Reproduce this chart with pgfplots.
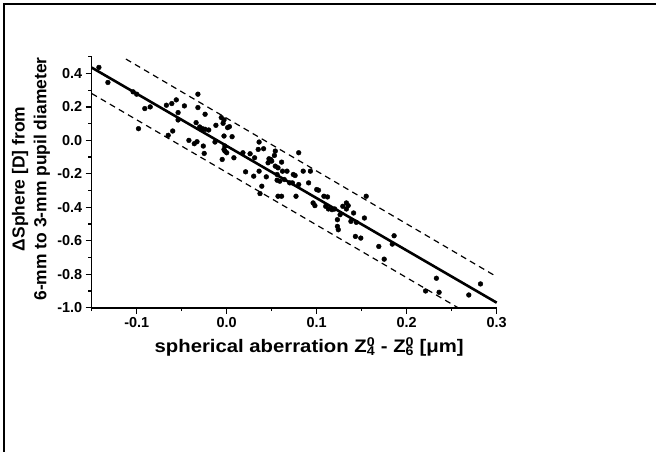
\documentclass[border=0pt]{standalone}
\usepackage{pgfplots}
\pgfplotsset{compat=1.18}
\usepackage{fontspec}
\setmainfont{Liberation Sans}
\newfontfamily\widefont[FakeStretch=1.12]{Liberation Sans}
\begin{document}
\begin{tikzpicture}
\useasboundingbox (0,0) rectangle (656bp,452bp);
\begin{axis}[
  at={(91.7bp,144.3bp)}, anchor=south west, scale only axis,
  width=405bp, height=251bp,
  xmin=-0.15, xmax=0.3, ymin=-1.0, ymax=0.5,
  axis x line*=bottom, axis y line*=left,
  x axis line style={line width=2pt},
  y axis line style={line width=1.5pt},
  tick align=outside,
  major tick length=6bp, minor tick length=3.5bp,
  every tick/.style={black, line width=1.3pt},
  xtick={-0.1,0,0.1,0.2,0.3},
  minor xtick={-0.15,-0.05,0.05,0.15,0.25},
  ytick={-1,-0.8,-0.6,-0.4,-0.2,0,0.2,0.4},
  minor ytick={-0.9,-0.7,-0.5,-0.3,-0.1,0.1,0.3,0.5},
  /pgf/number format/.cd, fixed, fixed zerofill, precision=1, assume math mode=true,
  /pgfplots/.cd,
  tick label style={font=\fontsize{14.5}{16}\selectfont\bfseries},
  xlabel={spherical aberration Z\rlap{\textsuperscript{0}}\textsubscript{4}\ - Z\rlap{\textsuperscript{0}}\textsubscript{6}\ [μm]},
  xlabel style={font=\fontsize{18.2}{20}\selectfont\widefont\bfseries, at={(axis description cs:0.537,-0.155)}, anchor=center},
  ylabel={ΔSphere [D] from\\6-mm to 3-mm pupil diameter},
  ylabel style={font=\fontsize{17.5}{22}\selectfont\bfseries, align=center, at={(axis description cs:-0.150,0.513)}, anchor=center, rotate=0},
  clip=false,
]
\addplot[only marks, mark=*, mark size=2.4bp, black] coordinates {
(-0.142,0.436) (-0.132,0.346) (-0.104,0.290) (-0.100,0.276) (-0.098,0.070)
(-0.091,0.190) (-0.085,0.200) (-0.067,0.210) (-0.065,0.030) (-0.060,0.056)
(-0.061,0.220) (-0.056,0.242) (-0.054,0.166) (-0.054,0.122) (-0.047,0.206)
(-0.042,0.000) (-0.036,-0.020) (-0.033,-0.008) (-0.032,0.276) (-0.032,0.196)
(-0.034,0.106) (-0.030,0.080) (-0.027,0.070) (-0.026,-0.034) (-0.025,-0.078)
(-0.024,0.156) (-0.024,0.066) (-0.020,0.062) (-0.013,-0.010) (-0.012,0.090)
(-0.006,0.136) (-0.004,0.102) (-0.003,0.122) (-0.005,-0.114) (-0.003,-0.054)
(-0.002,-0.064) (-0.003,0.026) (0.001,0.076) (0.003,0.082) (0.006,0.022)
(-0.002,-0.034) (0.000,-0.074) (0.008,-0.104) (0.018,-0.074) (0.021,-0.188)
(0.026,-0.080) (0.030,-0.214) (0.031,-0.104) (0.035,-0.054) (0.036,-0.010)
(0.036,-0.184) (0.039,-0.274) (0.037,-0.318) (0.041,-0.050) (0.044,-0.218)
(0.046,-0.134) (0.047,-0.110) (0.049,-0.114) (0.050,-0.124) (0.053,-0.090)
(0.054,-0.064) (0.054,-0.154) (0.056,-0.204) (0.057,-0.164) (0.056,-0.238)
(0.059,-0.244) (0.057,-0.334) (0.061,-0.334) (0.061,-0.130) (0.062,-0.184)
(0.064,-0.234) (0.067,-0.184) (0.070,-0.254) (0.073,-0.254) (0.074,-0.204)
(0.076,-0.210) (0.077,-0.334) (0.080,-0.074) (0.080,-0.264) (0.085,-0.184)
(0.091,-0.254) (0.093,-0.184) (0.096,-0.374) (0.098,-0.390) (0.100,-0.294)
(0.102,-0.298) (0.108,-0.334) (0.110,-0.394) (0.112,-0.338) (0.113,-0.410)
(0.117,-0.414) (0.120,-0.410) (0.123,-0.474) (0.123,-0.514) (0.124,-0.534)
(0.126,-0.444) (0.129,-0.394) (0.133,-0.374) (0.133,-0.410) (0.135,-0.390)
(0.138,-0.484) (0.141,-0.434) (0.144,-0.490) (0.143,-0.574) (0.149,-0.584)
(0.153,-0.464) (0.155,-0.334) (0.169,-0.634) (0.175,-0.710) (0.184,-0.620)
(0.186,-0.570) (0.221,-0.900) (0.233,-0.824) (0.236,-0.908) (0.269,-0.924)
(0.282,-0.858)
};
\addplot[black, line width=2.6pt] coordinates {(-0.15,0.435) (0.3,-0.97)};
\addplot[black, line width=1.2pt, dash pattern=on 6bp off 4.5bp] coordinates {(-0.112,0.486) (0.3,-0.815)};
\addplot[black, line width=1.2pt, dash pattern=on 6bp off 4.5bp] coordinates {(-0.15,0.28) (0.257,-1.0)};
\end{axis}
\draw[line width=1.6bp] (4bp,0) -- (4bp,448bp) -- (656bp,448bp);
\end{tikzpicture}
\end{document}
